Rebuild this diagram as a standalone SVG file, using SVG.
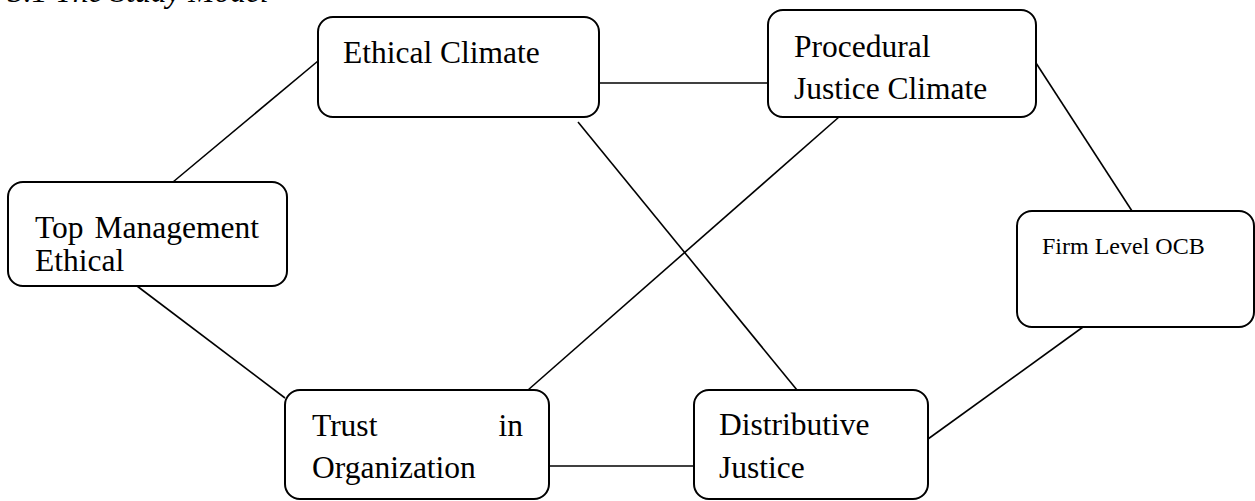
<svg xmlns="http://www.w3.org/2000/svg" width="1255" height="501" viewBox="0 0 1255 501">
<style>
  .box { fill: #fff; stroke: #000; stroke-width: 2; }
  .t { font-family: "Liberation Serif", "Times New Roman", serif; font-size: 31.5px; fill: #000; }
  .s { font-family: "Liberation Serif", "Times New Roman", serif; font-size: 24px; fill: #000; }
  .title { font-family: "Liberation Serif", "Times New Roman", serif; font-size: 31.5px; font-style: italic; fill: #000; }
  .conn line { stroke: #000; stroke-width: 1.6; fill: none; }
</style>
<rect width="1255" height="501" fill="#fff"/>
<text class="title" x="8" y="2">3.1 The Study Model</text>
<g id="connectors" class="conn">
  <line x1="173" y1="182" x2="318" y2="61"/>
  <line x1="137" y1="286" x2="285" y2="398"/>
  <line x1="599" y1="83" x2="768" y2="83"/>
  <line x1="578" y1="122" x2="797" y2="390"/>
  <line x1="839" y1="117" x2="528" y2="390"/>
  <line x1="1036" y1="63" x2="1132" y2="211"/>
  <line x1="1083" y1="327" x2="928" y2="439"/>
  <line x1="549" y1="466" x2="694" y2="466"/>
</g>
<g id="ethical-climate">
  <rect class="box" x="318" y="17" width="281" height="100" rx="15"/>
  <text class="t" x="343" y="63">Ethical Climate</text>
</g>
<g id="procedural-justice-climate">
  <rect class="box" x="768" y="10" width="268" height="107" rx="15"/>
  <text class="t" x="794" y="57">Procedural</text>
  <text class="t" x="794" y="99">Justice Climate</text>
</g>
<g id="top-management-ethical">
  <rect class="box" x="8" y="182" width="279" height="104" rx="15"/>
  <text class="t" x="35" y="238">Top</text>
  <text class="t" x="259" y="238" text-anchor="end">Management</text>
  <text class="t" x="35" y="271">Ethical</text>
</g>
<g id="firm-level-ocb">
  <rect class="box" x="1017" y="211" width="237" height="116" rx="15"/>
  <text class="s" x="1042" y="254">Firm Level OCB</text>
</g>
<g id="trust-in-organization">
  <rect class="box" x="285" y="390" width="264" height="109" rx="15"/>
  <text class="t" x="312" y="436">Trust</text>
  <text class="t" x="523" y="436" text-anchor="end">in</text>
  <text class="t" x="312" y="478">Organization</text>
</g>
<g id="distributive-justice">
  <rect class="box" x="694" y="390" width="234" height="109" rx="15"/>
  <text class="t" x="719" y="435">Distributive</text>
  <text class="t" x="719" y="478">Justice</text>
</g>
</svg>
